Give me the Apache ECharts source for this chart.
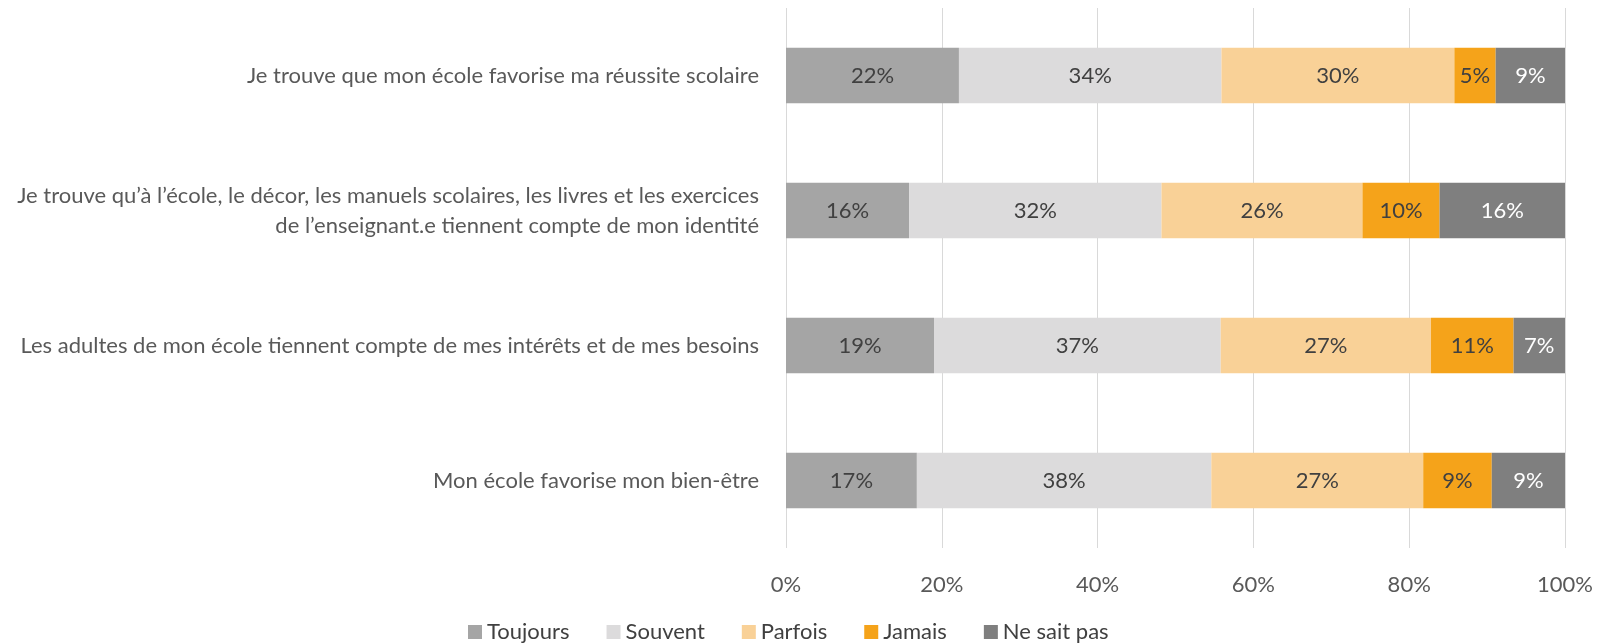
<!DOCTYPE html>
<html>
<head>
<meta charset="utf-8">
<script src="https://cdn.jsdelivr.net/npm/echarts@6/dist/echarts.min.js"></script>
<style>
  html, body { margin: 0; padding: 0; background: #fff; }
  #chart { width: 1597px; height: 644px; }
</style>
</head>
<body>
<div id="chart"></div>
<script>
let chart = echarts.init(document.getElementById('chart'));

// données
const questions = [
    'Je trouve que mon école favorise ma réussite scolaire',
    'Je trouve qu\u2019à l\u2019école, le décor, les manuels scolaires, les livres et les exercices\nde l\u2019enseignant.e tiennent compte de mon identité',
    'Les adultes de mon école tiennent compte de mes intérêts et de mes besoins',
    'Mon école favorise mon bien-être'
];
const seriesNames = ['Toujours', 'Souvent', 'Parfois', 'Jamais', 'Ne sait pas'];
const toujours = [22.2, 15.8, 19.0, 16.8];
const souvent = [33.7, 32.4, 36.8, 37.8];
const parfois = [29.9, 25.8, 27.0, 27.2];
const jamais = [5.3, 9.9, 10.6, 8.8];
const neSaitPas = [8.9, 16.1, 6.6, 9.4];
const xTicks = [0, 20, 40, 60, 80, 100];

const colors = ['#a5a5a5', '#dcdbdc', '#f9d197', '#f5a31a', '#7f7f7f'];
const labelColors = ['#404040', '#404040', '#404040', '#404040', '#ffffff'];
const font = 'Lato, "Open Sans", sans-serif';
const fs = 22;

let values = [toujours, souvent, parfois, jamais, neSaitPas];

let series = seriesNames.map((name, i) => ({
    name: name,
    type: 'bar',
    stack: 'total',
    barCategoryGap: '59%',
    data: values[i],
    itemStyle: {color: colors[i]},
    label: {
        show: true,
        position: 'inside',
        color: labelColors[i],
        fontFamily: font,
        fontSize: fs,
        formatter: p => Math.round(p.value) + '%'
    }
}));

let option = {
    animation: false,
    textStyle: {fontFamily: font},
    grid: {left: 786, right: 32, top: 8, bottom: 96, containLabel: false},
    legend: {
        data: seriesNames,
        bottom: -4,
        left: 463,
        itemWidth: 14,
        itemHeight: 14,
        itemGap: 37,
        icon: 'rect',
        textStyle: {color: '#404040', fontSize: fs, fontFamily: font}
    },
    xAxis: {
        type: 'value',
        min: xTicks[0],
        max: xTicks[xTicks.length - 1],
        interval: 20,
        axisLine: {show: false},
        axisTick: {show: false},
        splitLine: {show: true, lineStyle: {color: '#d9d9d9', width: 1}},
        axisLabel: {
            color: '#595959',
            fontSize: fs,
            fontFamily: font,
            margin: 26,
            formatter: v => v + '%'
        }
    },
    yAxis: {
        type: 'category',
        data: questions,
        inverse: true,
        axisLine: {show: false},
        axisTick: {show: false},
        axisLabel: {
            color: '#595959',
            fontSize: fs,
            fontFamily: font,
            margin: 27,
            align: 'right',
            lineHeight: 30
        }
    },
    series: series
};

chart.setOption(option);
</script>
</body>
</html>
